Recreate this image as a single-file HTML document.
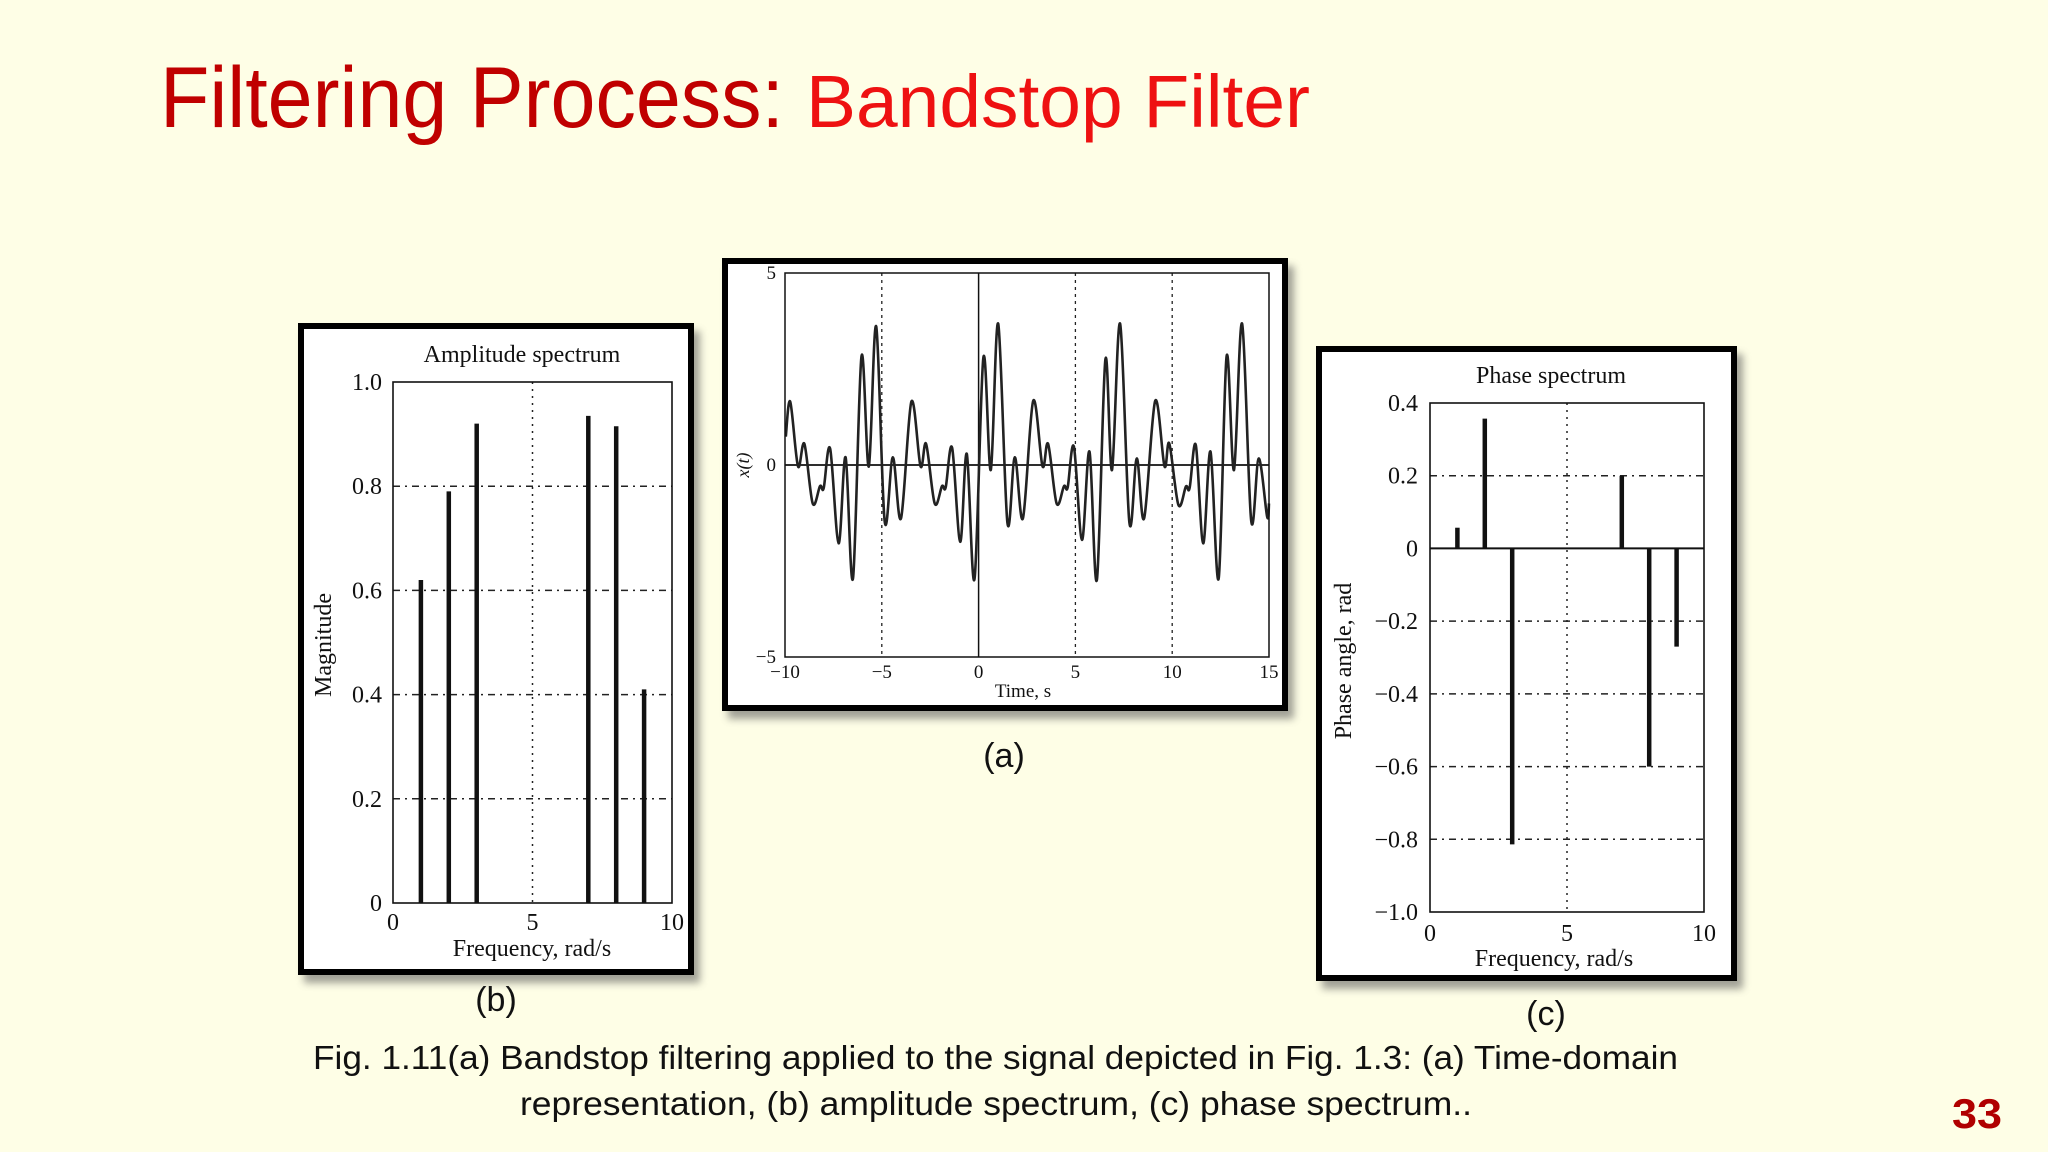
<!DOCTYPE html>
<html><head><meta charset="utf-8">
<style>
html,body{margin:0;padding:0;background:#fefee6;}
svg{display:block;}
.serif{font-family:"Liberation Serif",serif;fill:#111;}
.sans{font-family:"Liberation Sans",sans-serif;}
</style></head>
<body>
<svg id="s" width="2048" height="1152" viewBox="0 0 2048 1152" xmlns="http://www.w3.org/2000/svg">
<defs>
<filter id="sh" x="-10%" y="-10%" width="125%" height="125%"><feGaussianBlur stdDeviation="4"/></filter>
</defs>
<rect x="0" y="0" width="2048" height="1152" fill="#fefee6"/>
<text x="160" y="127" class="sans" font-size="86" fill="#c00000" textLength="624" lengthAdjust="spacingAndGlyphs">Filtering Process:</text>
<text x="806" y="127" class="sans" font-size="74" fill="#ee1111" textLength="504" lengthAdjust="spacingAndGlyphs">Bandstop Filter</text>
<text x="313" y="1069" class="sans" font-size="33" fill="#111" textLength="1365" lengthAdjust="spacingAndGlyphs">Fig. 1.11(a) Bandstop filtering applied to the signal depicted in Fig. 1.3: (a) Time-domain</text>
<text x="520" y="1115" class="sans" font-size="33" fill="#111" textLength="952" lengthAdjust="spacingAndGlyphs">representation, (b) amplitude spectrum, (c) phase spectrum..</text>
<text x="1952" y="1128" class="sans" font-size="42" font-weight="bold" fill="#b00000" textLength="50" lengthAdjust="spacingAndGlyphs">33</text>
<text x="1004" y="767" class="sans" font-size="34" fill="#111" text-anchor="middle">(a)</text>
<text x="496" y="1011" class="sans" font-size="34" fill="#111" text-anchor="middle">(b)</text>
<text x="1546" y="1025" class="sans" font-size="34" fill="#111" text-anchor="middle">(c)</text>
<g id="g"></g>
</svg>
<script>
// ---- Chart (a): time-domain signal samples (extrema)
const timeT = [-9.96,-9.73,-9.33,-9.0,-8.57,-8.19,-8.0,-7.67,-7.23,-6.87,-6.49,-6.05,-5.67,-5.29,-4.85,-4.43,-4.01,-3.47,-3.0,-2.71,-2.27,-1.89,-1.70,-1.37,-0.95,-0.61,-0.21,0.25,0.63,1.01,1.49,1.87,2.29,2.82,3.3,3.59,4.03,4.41,4.6,4.92,5.34,5.73,6.11,6.55,6.89,7.31,7.79,8.17,8.55,9.12,9.6,9.85,10.32,10.71,10.9,11.22,11.6,11.98,12.4,12.81,13.19,13.61,14.08,14.47,14.9,15.0];
const timeX = [0.74,1.65,-0.03,0.55,-1.0,-0.55,-0.6,0.43,-2.04,0.2,-2.95,2.83,-0.04,3.61,-1.47,0.2,-1.39,1.65,-0.03,0.55,-1.0,-0.55,-0.58,0.45,-2.0,0.29,-2.97,2.8,-0.13,3.68,-1.5,0.2,-1.39,1.67,-0.03,0.55,-1.0,-0.55,-0.58,0.48,-1.95,0.35,-2.99,2.75,-0.13,3.68,-1.5,0.17,-1.39,1.67,-0.03,0.56,-1.04,-0.56,-0.6,0.52,-2.04,0.35,-2.95,2.83,-0.13,3.68,-1.45,0.17,-1.34,-1.0];
const timeXTicks = [-10,-5,0,5,10,15];
const timeYTicks = [-5,0,5];
// ---- Chart (b): amplitude spectrum
const ampFreq = [1,2,3,7,8,9];
const ampMag = [0.62,0.79,0.92,0.935,0.915,0.41];
const ampXTicks = [0,5,10];
const ampYTicks = [0,0.2,0.4,0.6,0.8,1.0];
const ampYLabels = ["0","0.2","0.4","0.6","0.8","1.0"];
// ---- Chart (c): phase spectrum
const phFreq = [1,2,3,7,8,9];
const phAngle = [0.057,0.357,-0.814,0.2,-0.6,-0.27];
const phXTicks = [0,5,10];
const phYTicks = [0.4,0.2,0,-0.2,-0.4,-0.6,-0.8,-1.0];
const phYLabels = ["0.4","0.2","0","\u22120.2","\u22120.4","\u22120.6","\u22120.8","\u22121.0"];

const NS="http://www.w3.org/2000/svg";
const G=document.getElementById('g');
function mk(tag,attrs,parent){const e=document.createElementNS(NS,tag);for(const k in attrs)e.setAttribute(k,attrs[k]);(parent||G).appendChild(e);return e;}
function txt(s,attrs,parent){const e=mk('text',attrs,parent);e.textContent=s;return e;}
function frame(x,y,w,h,name){
  const g=mk('g',{});
  
  
  mk('rect',{x:x+6,y:y+8,width:w,height:h,fill:'#555',opacity:0.55,filter:'url(#sh)'},g);
  const r=mk('rect',{x:x+3,y:y+3,width:w-6,height:h-6,fill:'#fff',stroke:'#000','stroke-width':6},g);
  
  
  return g;
}
function scale(d0,d1,r0,r1){return v=>r0+(v-d0)*(r1-r0)/(d1-d0);}

// ===== Chart (a)
(function(){
  const g=frame(722,258,566,453,'time-domain-chart');
  const L=785,R=1269,T=273,B=657;
  const sx=scale(-10,15,L,R), sy=scale(-5,5,B,T);
  [-5,5,10].forEach(v=>{const l=mk('line',{x1:sx(v),x2:sx(v),y1:T,y2:B,stroke:'#222','stroke-width':1.3,'stroke-dasharray':'3,4'},g);
    });
  mk('line',{x1:sx(0),x2:sx(0),y1:T,y2:B,stroke:'#111','stroke-width':1.5},g);
  mk('line',{x1:L,x2:R,y1:sy(0),y2:sy(0),stroke:'#111','stroke-width':1.8},g);
  // smooth curve (Catmull-Rom)
  const P=timeT.map((t,i)=>[sx(t),sy(timeX[i])]);
  let d='M'+P[0][0].toFixed(1)+','+P[0][1].toFixed(1);
  for(let i=0;i<P.length-1;i++){
    const p0=P[i-1]||P[i],p1=P[i],p2=P[i+1],p3=P[i+2]||P[i+1];
    const c1=[p1[0]+(p2[0]-p0[0])/6,p1[1]+(p2[1]-p0[1])/6];
    const c2=[p2[0]-(p3[0]-p1[0])/6,p2[1]-(p3[1]-p1[1])/6];
    d+=' C'+c1.map(v=>v.toFixed(1))+' '+c2.map(v=>v.toFixed(1))+' '+p2.map(v=>v.toFixed(1));
  }
  const line=mk('path',{d:d,fill:'none',stroke:'#222','stroke-width':2.6,'stroke-linejoin':'round'},g);
  
  
  const ax=mk('rect',{x:L,y:T,width:R-L,height:B-T,fill:'none',stroke:'#111','stroke-width':1.5},g);
  
  timeXTicks.forEach(v=>{const t=txt(String(v).replace('-','\u2212'),{x:sx(v),y:678,'font-size':19,'text-anchor':'middle',class:'serif'},g);
    });
  timeYTicks.forEach(v=>{const t=txt(String(v).replace('-','\u2212'),{x:776,y:sy(v)+6,'font-size':19,'text-anchor':'end',class:'serif'},g);
    });
  const xl=txt('Time, s',{x:1023,y:697,'font-size':19,'text-anchor':'middle',class:'serif'},g);
  
  const yl=txt('x(t)',{x:0,y:0,'font-size':18,'text-anchor':'middle','font-style':'italic',class:'serif',transform:'translate(749,465) rotate(-90)'},g);
  
})();

// ===== Chart (b)
(function(){
  const g=frame(298,323,396,652,'amplitude-spectrum-chart');
  const L=393,R=672,T=382,B=903;
  const sx=scale(0,10,L,R), sy=scale(0,1,B,T);
  ampYTicks.forEach(v=>{if(v>0&&v<1){const l=mk('line',{x1:L,x2:R,y1:sy(v),y2:sy(v),stroke:'#222','stroke-width':1.5,'stroke-dasharray':'7,5,2,5'},g);
    }});
  mk('line',{x1:sx(5),x2:sx(5),y1:T,y2:B,stroke:'#222','stroke-width':1.5,'stroke-dasharray':'2,5'},g);
  ampFreq.forEach((f,i)=>{const b=mk('line',{x1:sx(f),x2:sx(f),y1:sy(0),y2:sy(ampMag[i]),stroke:'#111','stroke-width':4.5},g);
    });
  const ax=mk('rect',{x:L,y:T,width:R-L,height:B-T,fill:'none',stroke:'#111','stroke-width':1.6},g);
  
  ampXTicks.forEach(v=>{const t=txt(String(v),{x:sx(v),y:930,'font-size':24,'text-anchor':'middle',class:'serif'},g);
    });
  ampYTicks.forEach((v,i)=>{const t=txt(ampYLabels[i],{x:382,y:sy(v)+8,'font-size':24,'text-anchor':'end',class:'serif'},g);
    });
  const tt=txt('Amplitude spectrum',{x:522,y:362,'font-size':24,'text-anchor':'middle',class:'serif'},g);
  
  const xl=txt('Frequency, rad/s',{x:532,y:956,'font-size':24,'text-anchor':'middle',class:'serif'},g);
  
  const yl=txt('Magnitude',{x:0,y:0,'font-size':24,'text-anchor':'middle',class:'serif',transform:'translate(331,645) rotate(-90)'},g);
  
})();

// ===== Chart (c)
(function(){
  const g=frame(1316,346,421,635,'phase-spectrum-chart');
  const L=1430,R=1704,T=403,B=912;
  const sx=scale(0,10,L,R), sy=scale(-1,0.4,B,T);
  phYTicks.forEach(v=>{if(v>-1&&v<0.4&&v!==0){const l=mk('line',{x1:L,x2:R,y1:sy(v),y2:sy(v),stroke:'#222','stroke-width':1.5,'stroke-dasharray':'7,5,2,5'},g);
    }});
  mk('line',{x1:sx(5),x2:sx(5),y1:T,y2:B,stroke:'#222','stroke-width':1.5,'stroke-dasharray':'2,5'},g);
  mk('line',{x1:L,x2:R,y1:sy(0),y2:sy(0),stroke:'#111','stroke-width':2},g);
  phFreq.forEach((f,i)=>{const b=mk('line',{x1:sx(f),x2:sx(f),y1:sy(0),y2:sy(phAngle[i]),stroke:'#111','stroke-width':4.5},g);
    });
  const ax=mk('rect',{x:L,y:T,width:R-L,height:B-T,fill:'none',stroke:'#111','stroke-width':1.6},g);
  
  phXTicks.forEach(v=>{const t=txt(String(v),{x:sx(v),y:941,'font-size':24,'text-anchor':'middle',class:'serif'},g);
    });
  phYTicks.forEach((v,i)=>{const t=txt(phYLabels[i],{x:1418,y:sy(v)+8,'font-size':24,'text-anchor':'end',class:'serif'},g);
    });
  const tt=txt('Phase spectrum',{x:1551,y:383,'font-size':24,'text-anchor':'middle',class:'serif'},g);
  
  const xl=txt('Frequency, rad/s',{x:1554,y:966,'font-size':24,'text-anchor':'middle',class:'serif'},g);
  
  const yl=txt('Phase angle, rad',{x:0,y:0,'font-size':24,'text-anchor':'middle',class:'serif',transform:'translate(1351,661) rotate(-90)'},g);
  
})();
</script>
</body></html>
